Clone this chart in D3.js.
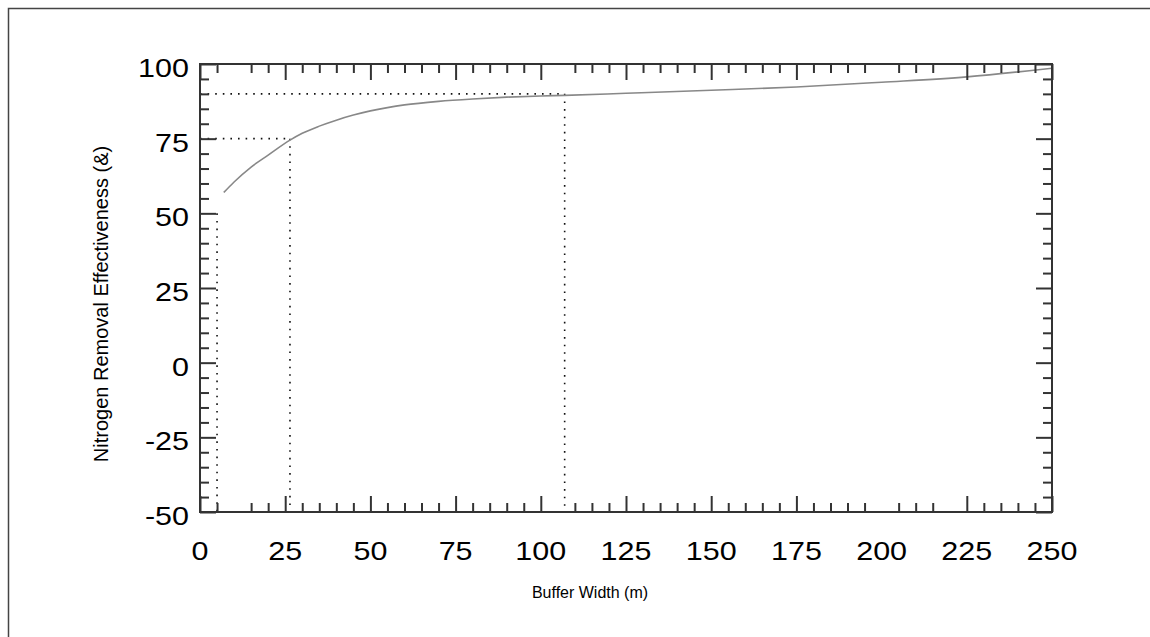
<!DOCTYPE html>
<html><head><meta charset="utf-8">
<script src="https://cdn.jsdelivr.net/npm/d3@7"></script>
<style>
html,body{margin:0;padding:0;background:#fff;}
svg{display:block;}
</style></head>
<body>
<svg id="chart" width="1150" height="637"></svg>
<script>
// ---- data ----
const bufferWidth = [7, 10, 15, 20, 26.4, 30, 35, 40, 45, 50, 55, 60, 70, 80, 90, 100, 107, 125, 150, 175, 200, 225, 250];
const effectiveness = [57, 60.5, 65.5, 69.5, 74.5, 76.8, 79.2, 81.2, 82.9, 84.3, 85.4, 86.3, 87.5, 88.3, 88.9, 89.3, 89.5, 90.2, 91.2, 92.3, 93.9, 95.7, 98.6];
const xMajorTicks = [0, 25, 50, 75, 100, 125, 150, 175, 225, 250];
const xTickLabels = [0, 25, 50, 75, 100, 125, 150, 175, 200, 225, 250];
const xMinorTicks = [5, 15, 20, 30, 35, 40, 45, 55, 60, 65, 70, 80, 85, 90, 95, 110, 115, 120, 130, 135, 140, 145, 155, 160, 165, 170, 180, 185, 190, 195, 205, 210, 215, 230, 235, 240, 245];
const yMajorTicks = [-50, -25, 0, 25, 50, 75, 100];
const yMinorTicks = [-45, -40, -35, -30, -20, -15, -10, -5, 5, 10, 15, 20, 30, 35, 40, 45, 55, 60, 65, 70, 80, 85, 90, 95];
// reference guide lines: [x, y] where effectiveness is read
const guideH = [[107, 90], [26.4, 75]];
const guideV = [[5, 50], [26.4, 75], [107, 90]];

const svg = d3.select("#chart");
const L = 200, R = 1052, T = 64, B = 512;
const x = d3.scaleLinear().domain([0, 250]).range([L, R]);
const y = d3.scaleLinear().domain([-50, 100]).range([B, T]);
const axisColor = "#333";

// outer frame (left + top)
svg.append("path").attr("d", "M8.5,637 V8.5 H1150").attr("fill", "none").attr("stroke", "#444").attr("stroke-width", 1.5);

// guides
const dot = "1.6,6";
guideH.forEach(([gx, gy]) => {
  svg.append("line").attr("x1", x(0)).attr("x2", x(gx)).attr("y1", y(gy)).attr("y2", y(gy))
    .attr("stroke", "#111").attr("stroke-width", 1.6).attr("stroke-dasharray", dot);
});
guideV.forEach(([gx, gy]) => {
  svg.append("line").attr("x1", x(gx)).attr("x2", x(gx)).attr("y1", y(gy)).attr("y2", y(-50))
    .attr("stroke", "#111").attr("stroke-width", 1.6).attr("stroke-dasharray", dot);
});

// curve
const line = d3.line().x((d, i) => x(bufferWidth[i])).y(d => y(d)).curve(d3.curveMonotoneX);
svg.append("path").datum(effectiveness).attr("d", line)
  .attr("fill", "none").attr("stroke", "#888").attr("stroke-width", 1.6);

// axes ticks
function styleAxis(g) {
  g.select(".domain").remove();
  g.selectAll("line").attr("stroke", axisColor).attr("stroke-width", 2);
  g.selectAll("text").remove();
}
const MAJ = 16, MIN = 9;
svg.append("g").attr("transform", `translate(0,${B})`).call(d3.axisTop(x).tickValues(xMajorTicks).tickSize(MAJ)).call(styleAxis);
svg.append("g").attr("transform", `translate(0,${B})`).call(d3.axisTop(x).tickValues(xMinorTicks).tickSize(MIN)).call(styleAxis);
svg.append("g").attr("transform", `translate(0,${T})`).call(d3.axisBottom(x).tickValues(xMajorTicks).tickSize(MAJ)).call(styleAxis);
svg.append("g").attr("transform", `translate(0,${T})`).call(d3.axisBottom(x).tickValues(xMinorTicks).tickSize(MIN)).call(styleAxis);
svg.append("g").attr("transform", `translate(${L},0)`).call(d3.axisRight(y).tickValues(yMajorTicks).tickSize(MAJ)).call(styleAxis);
svg.append("g").attr("transform", `translate(${L},0)`).call(d3.axisRight(y).tickValues(yMinorTicks).tickSize(MIN)).call(styleAxis);
svg.append("g").attr("transform", `translate(${R},0)`).call(d3.axisLeft(y).tickValues(yMajorTicks).tickSize(MAJ)).call(styleAxis);
svg.append("g").attr("transform", `translate(${R},0)`).call(d3.axisLeft(y).tickValues(yMinorTicks).tickSize(MIN)).call(styleAxis);

// frame
svg.append("rect").attr("x", L).attr("y", T).attr("width", R - L).attr("height", B - T)
  .attr("fill", "none").attr("stroke", axisColor).attr("stroke-width", 2);

// labels
const font = "'Liberation Sans', Arial, sans-serif";
svg.append("g").selectAll("text").data(xTickLabels).join("text")
  .attr("transform", d => `translate(${x(d)},560) scale(1.22,1)`)
  .attr("text-anchor", "middle").attr("font-family", font).attr("font-size", 25).attr("fill", "#000")
  .text(d => d);
svg.append("g").selectAll("text").data(yMajorTicks).join("text")
  .attr("transform", d => `translate(189,${y(d) + 13}) scale(1.22,1)`)
  .attr("text-anchor", "end").attr("font-family", font).attr("font-size", 25).attr("fill", "#000")
  .text(d => d);

svg.append("text").attr("x", 590).attr("y", 598).attr("text-anchor", "middle")
  .attr("font-family", font).attr("font-size", 16).attr("fill", "#000").text("Buffer Width (m)");
svg.append("text").attr("transform", "translate(108,304) rotate(-90)").attr("text-anchor", "middle")
  .attr("font-family", font).attr("font-size", 20).attr("fill", "#000").text("Nitrogen Removal Effectiveness (&)");
</script>
</body></html>
